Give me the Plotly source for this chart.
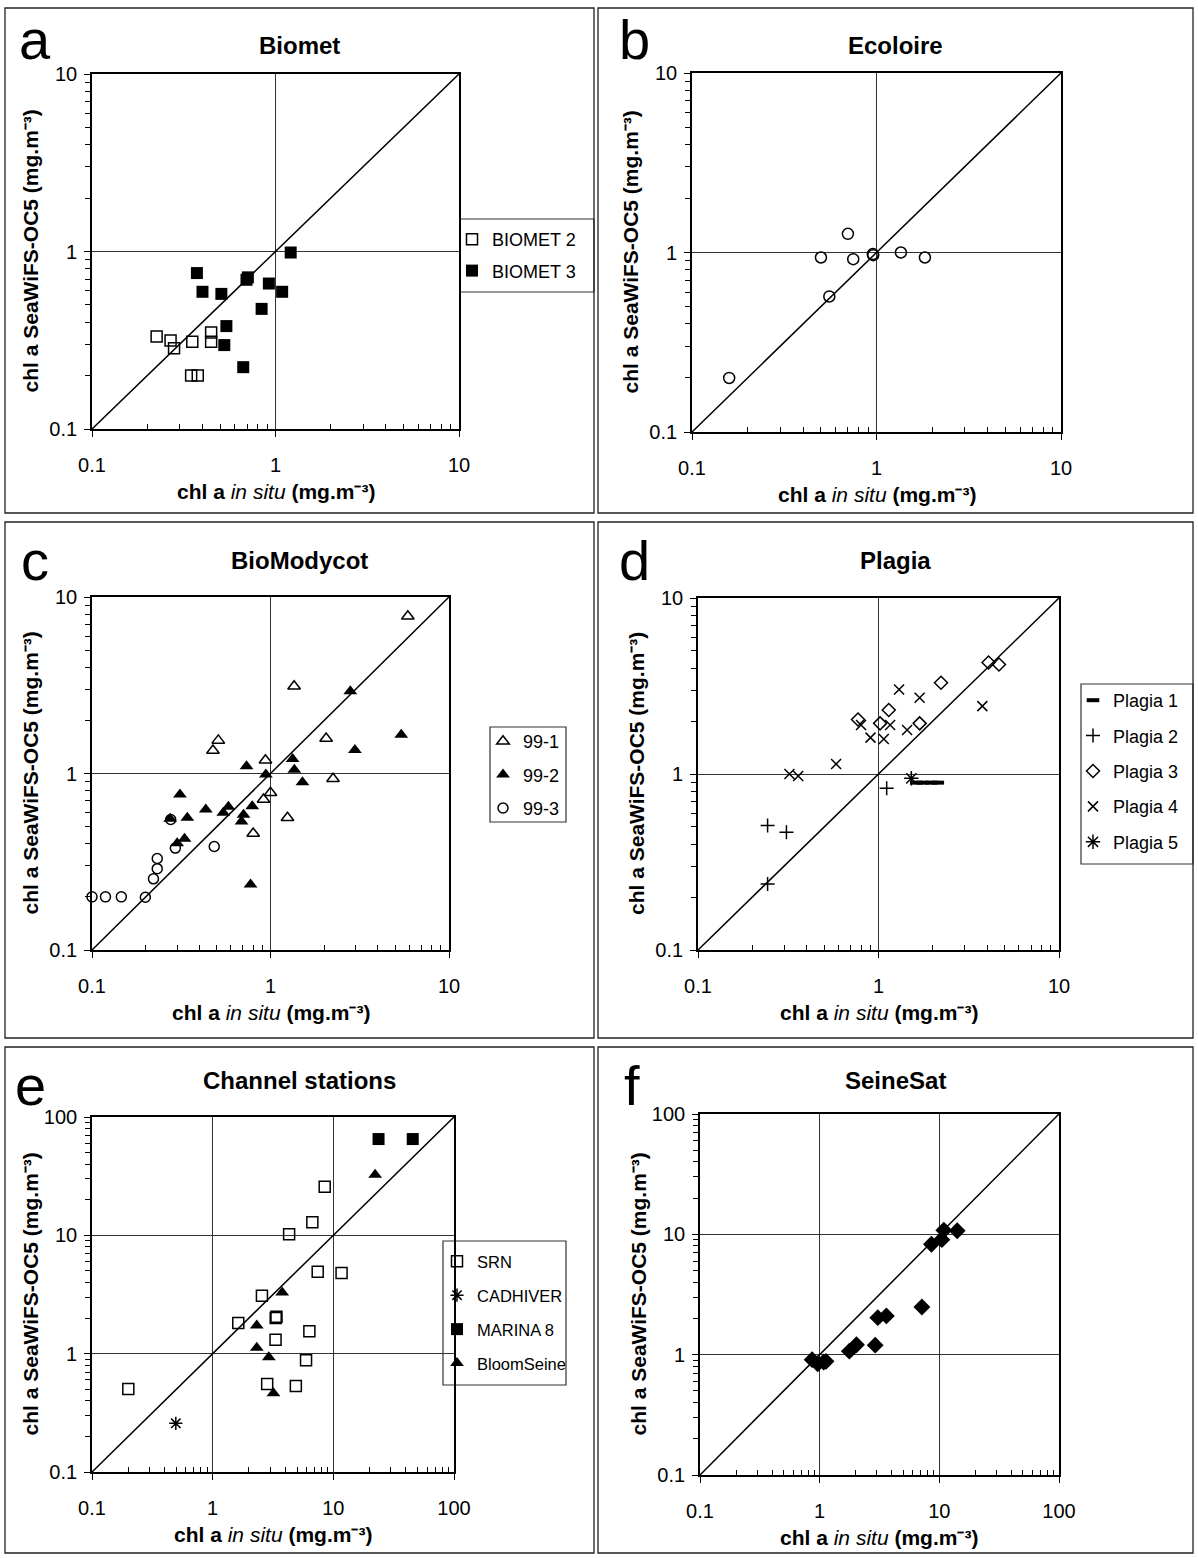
import plotly.graph_objects as go

W, H = 1198, 1558

# ---------------- data ----------------
# Panel a: Biomet
biomet2_x = [0.225, 0.268, 0.28, 0.352, 0.446, 0.446, 0.347, 0.377]
biomet2_y = [0.332, 0.315, 0.285, 0.31, 0.35, 0.31, 0.2, 0.2]
biomet3_x = [0.373, 0.40, 0.507, 0.695, 0.707, 0.92, 1.087, 1.21, 0.84, 0.54, 0.526, 0.667]
biomet3_y = [0.756, 0.593, 0.577, 0.693, 0.715, 0.66, 0.593, 0.987, 0.475, 0.38, 0.297, 0.223]

# Panel b: Ecoloire
ecoloire_x = [0.159, 0.5, 0.70, 0.748, 0.555, 0.96, 0.955, 1.356, 1.83]
ecoloire_y = [0.2, 0.938, 1.27, 0.918, 0.569, 0.966, 0.98, 1.0, 0.938]

# Panel c: BioModycot
bm991_x = [5.88, 1.356, 0.51, 0.476, 0.937, 2.05, 2.24, 1.0, 0.914, 1.245, 0.80]
bm991_y = [7.78, 3.12, 1.54, 1.35, 1.19, 1.58, 0.933, 0.778, 0.713, 0.561, 0.457]
bm992_x = [2.8, 5.4, 2.97, 1.33, 1.36, 1.51, 0.734, 0.942, 0.311, 0.434, 0.581, 0.544,
           0.79, 0.706, 0.688, 0.342, 0.274, 0.33, 0.30, 0.773]
bm992_y = [2.92, 1.66, 1.36, 1.21, 1.05, 0.893, 1.10, 0.987, 0.76, 0.625, 0.648, 0.599,
           0.653, 0.583, 0.535, 0.561, 0.554, 0.427, 0.402, 0.235]
bm993_x = [0.276, 0.293, 0.484, 0.232, 0.232, 0.221, 0.199, 0.146, 0.119, 0.10]
bm993_y = [0.549, 0.378, 0.386, 0.33, 0.289, 0.253, 0.199, 0.2, 0.2, 0.2]

# Panel d: Plagia
plagia1_x = [1.62, 1.76, 1.96, 2.13]
plagia1_y = [0.893, 0.893, 0.893, 0.893]
plagia2_x = [1.11, 0.243, 0.309, 0.243]
plagia2_y = [0.829, 0.509, 0.467, 0.237]
plagia3_x = [4.07, 4.65, 2.22, 1.14, 1.69, 1.02, 0.77]
plagia3_y = [4.30, 4.19, 3.30, 2.31, 1.94, 1.94, 2.04]
plagia4_x = [1.30, 1.69, 3.76, 0.80, 1.16, 1.44, 0.903, 1.07, 0.582, 0.359, 0.321]
plagia4_y = [3.02, 2.71, 2.43, 1.90, 1.90, 1.78, 1.61, 1.58, 1.14, 0.975, 1.0]
plagia5_x = [1.52]
plagia5_y = [0.945]

# Panel e: Channel stations
srn_x = [0.2, 8.48, 6.7, 4.3, 7.42, 11.7, 2.56, 3.38, 3.33, 1.63, 6.33, 3.32, 5.94, 2.83, 4.89]
srn_y = [0.502, 25.8, 12.9, 10.2, 4.92, 4.8, 3.08, 2.05, 2.0, 1.82, 1.55, 1.31, 0.878, 0.553, 0.532]
cadhiver_x = [0.495]
cadhiver_y = [0.258]
marina8_x = [23.7, 45.5]
marina8_y = [65.1, 65.1]
bloomseine_x = [22.2, 3.77, 2.32, 2.32, 2.92, 3.19]
bloomseine_y = [32.5, 3.29, 1.73, 1.12, 0.931, 0.464]

# Panel f: SeineSat
seinesat_x = [0.865, 0.963, 1.08, 1.13, 1.77, 2.03, 2.91, 3.06, 3.61, 7.15, 8.59, 10.5, 10.9, 14.1]
seinesat_y = [0.909, 0.841, 0.869, 0.88, 1.07, 1.21, 1.20, 2.03, 2.10, 2.49, 8.26, 9.03, 10.8, 10.7]

# 1:1 reference lines (axis extents)
one_to_one_10 = [0.1, 10]
one_to_one_100 = [0.1, 100]

panel_titles = ["Biomet", "Ecoloire", "BioModycot", "Plagia", "Channel stations", "SeineSat"]
panel_letters = ["a", "b", "c", "d", "e", "f"]
x_title = "<b>chl a </b><i>in situ</i><b> (mg.m⁻³)</b>"
y_title = "<b>chl a SeaWiFS-OC5 (mg.m⁻³)</b>"

# ---------------- layout helpers ----------------
FONT = "Liberation Sans, Arial, Helvetica, sans-serif"


def px(x):
    return x / W


def py(y):
    return 1 - y / H


# plot areas in pixels: (left, right, top, bottom)
areas = [
    (92, 459, 74, 429),
    (692, 1061, 73, 432),
    (92, 449, 597, 950),
    (698, 1059, 598, 950),
    (92, 454, 1117, 1472),
    (700, 1059, 1114, 1475),
]
# panel frames
frames = [
    (5, 594, 8, 513),
    (598, 1193, 8, 513),
    (5, 594, 522, 1038),
    (598, 1193, 522, 1038),
    (5, 594, 1047, 1553),
    (598, 1193, 1047, 1553),
]
title_y = [46, 46, 560, 560, 1080, 1080]
letter_pos = [(35, 40), (634, 40), (35, 560), (634, 560), (30, 1085), (632, 1085)]

fig = go.Figure()


def axis(domain, decades, is_x, anchor):
    lo, hi = -1, decades
    minor_vals = [m * 10 ** e for e in range(lo, hi) for m in range(2, 10)]
    return dict(
        type="log", range=[lo, hi], domain=domain, anchor=anchor,
        showline=True, linecolor="black", linewidth=1.7, mirror=True,
        ticks="outside", ticklen=6, tickwidth=1, tickcolor="black",
        dtick=1, showgrid=True, gridcolor="#333333", gridwidth=1, zeroline=False,
        tickfont=dict(family=FONT, size=20, color="black"),
        ticklabelstandoff=11 if is_x else 3,
        minor=dict(ticks="inside" if is_x else "outside", ticklen=5, tickwidth=1,
                   tickcolor="black", showgrid=False, tickmode="array", tickvals=minor_vals),
        fixedrange=True, automargin=False,
    )


layout_axes = {}
for i, (l, r, t, b) in enumerate(areas):
    n = "" if i == 0 else str(i + 1)
    dec = 2 if i >= 4 else 1
    layout_axes["xaxis" + n] = axis([px(l), px(r)], dec, True, "y" + n)
    layout_axes["yaxis" + n] = axis([py(b), py(t)], dec, False, "x" + n)


def add_diag(idx, vals):
    n = "" if idx == 0 else str(idx + 1)
    fig.add_trace(go.Scatter(x=vals, y=vals, mode="lines", line=dict(color="black", width=1.5),
                             showlegend=False, hoverinfo="skip", xaxis="x" + n, yaxis="y" + n))


def add_pts(idx, xs, ys, name, symbol, size, legend, lw=1.5):
    n = "" if idx == 0 else str(idx + 1)
    fig.add_trace(go.Scatter(
        x=xs, y=ys, mode="markers", name=name, legendgroup=name, legend=legend,
        showlegend=legend is not None,
        marker=dict(symbol=symbol, size=size, color="black",
                    line=dict(color="black", width=lw)),
        cliponaxis=False, xaxis="x" + n, yaxis="y" + n))


for i in range(4):
    add_diag(i, one_to_one_10)
for i in (4, 5):
    add_diag(i, one_to_one_100)

# a
add_pts(0, biomet2_x, biomet2_y, "BIOMET 2", "square-open", 11, "legend")
add_pts(0, biomet3_x, biomet3_y, "BIOMET 3", "square", 12, "legend", lw=0)
# b
add_pts(1, ecoloire_x, ecoloire_y, "Ecoloire", "circle-open", 11, None)
# c
add_pts(2, bm991_x, bm991_y, "99-1", "triangle-up-open", 11, "legend2")
add_pts(2, bm992_x, bm992_y, "99-2", "triangle-up", 12, "legend2", lw=0)
add_pts(2, bm993_x, bm993_y, "99-3", "circle-open", 10, "legend2")
# d
add_pts(3, plagia1_x, plagia1_y, "Plagia 1", "line-ew", 9, "legend3", lw=4)
add_pts(3, plagia2_x, plagia2_y, "Plagia 2", "cross-thin", 10, "legend3", lw=1.5)
add_pts(3, plagia3_x, plagia3_y, "Plagia 3", "diamond-open", 10, "legend3", lw=1.5)
add_pts(3, plagia4_x, plagia4_y, "Plagia 4", "x-thin", 10, "legend3", lw=1.5)
add_pts(3, plagia5_x, plagia5_y, "Plagia 5", "asterisk-open", 12, "legend3", lw=1.5)
# e
add_pts(4, srn_x, srn_y, "SRN", "square-open", 11, "legend4")
add_pts(4, cadhiver_x, cadhiver_y, "CADHIVER", "asterisk-open", 11, "legend4", lw=1.5)
add_pts(4, marina8_x, marina8_y, "MARINA 8", "square", 12, "legend4", lw=0)
add_pts(4, bloomseine_x, bloomseine_y, "BloomSeine", "triangle-up", 12, "legend4", lw=0)
# f
add_pts(5, seinesat_x, seinesat_y, "SeineSat", "diamond", 13, None, lw=0)

# ---------------- shapes: panel frames and legend boxes ----------------
shapes = []
for (l, r, t, b) in frames:
    shapes.append(dict(type="rect", xref="paper", yref="paper", x0=px(l), x1=px(r),
                       y0=py(b), y1=py(t), line=dict(color="#222222", width=1.3)))
legend_boxes = [
    (460, 594, 219, 292),
    (490, 566, 727, 822),
    (1081, 1193, 684, 864),
    (443, 566, 1241, 1385),
]
for (l, r, t, b) in legend_boxes:
    shapes.append(dict(type="rect", xref="paper", yref="paper", x0=px(l), x1=px(r),
                       y0=py(b), y1=py(t), line=dict(color="#333333", width=1.2),
                       fillcolor="white", layer="below"))


def leg(sym_x, top, gap, size):
    return dict(x=px(sym_x - 21), y=py(top), xanchor="left", yanchor="top",
                bgcolor="rgba(0,0,0,0)", borderwidth=0, traceorder="grouped",
                tracegroupgap=gap, font=dict(family=FONT, size=size, color="black"),
                itemsizing="trace")


# ---------------- annotations ----------------
ann = []
for i, (l, r, t, b) in enumerate(areas):
    cx = (l + r) / 2
    cy = (t + b) / 2
    fl, fr, ft, fb = frames[i]
    ann.append(dict(text="<b>" + panel_titles[i] + "</b>", x=px((fl + fr) / 2), y=py(title_y[i]),
                    xref="paper", yref="paper", showarrow=False, xanchor="center", yanchor="middle",
                    font=dict(family=FONT, size=24, color="black")))
    ann.append(dict(text=x_title,
                    x=px(cx), y=py(b + 62), xref="paper", yref="paper", showarrow=False,
                    xanchor="center", yanchor="middle",
                    font=dict(family=FONT, size=21, color="black")))
    ann.append(dict(text=y_title,
                    x=px(l - 62), y=py(cy), xref="paper", yref="paper", showarrow=False,
                    xanchor="center", yanchor="middle", textangle=-90,
                    font=dict(family=FONT, size=21, color="black")))
    lx, ly = letter_pos[i]
    ann.append(dict(text=panel_letters[i], x=px(lx), y=py(ly), xref="paper", yref="paper",
                    showarrow=False, xanchor="center", yanchor="middle",
                    font=dict(family=FONT, size=56, color="black")))

fig.update_layout(
    width=W, height=H, autosize=False,
    margin=dict(l=0, r=0, t=0, b=0, pad=0, autoexpand=False),
    paper_bgcolor="white", plot_bgcolor="white",
    font=dict(family=FONT, color="black"),
    shapes=shapes, annotations=ann,
    legend=leg(473, 221, 5, 18),
    legend2=leg(504, 723, 7, 18),
    legend3=leg(1094, 682, 9, 18),
    legend4=leg(458, 1244, 9.5, 16.5),
    **layout_axes,
)

fig.write_html("out.html", config={"displayModeBar": False},
               post_script="document.body.style.margin='0';")
